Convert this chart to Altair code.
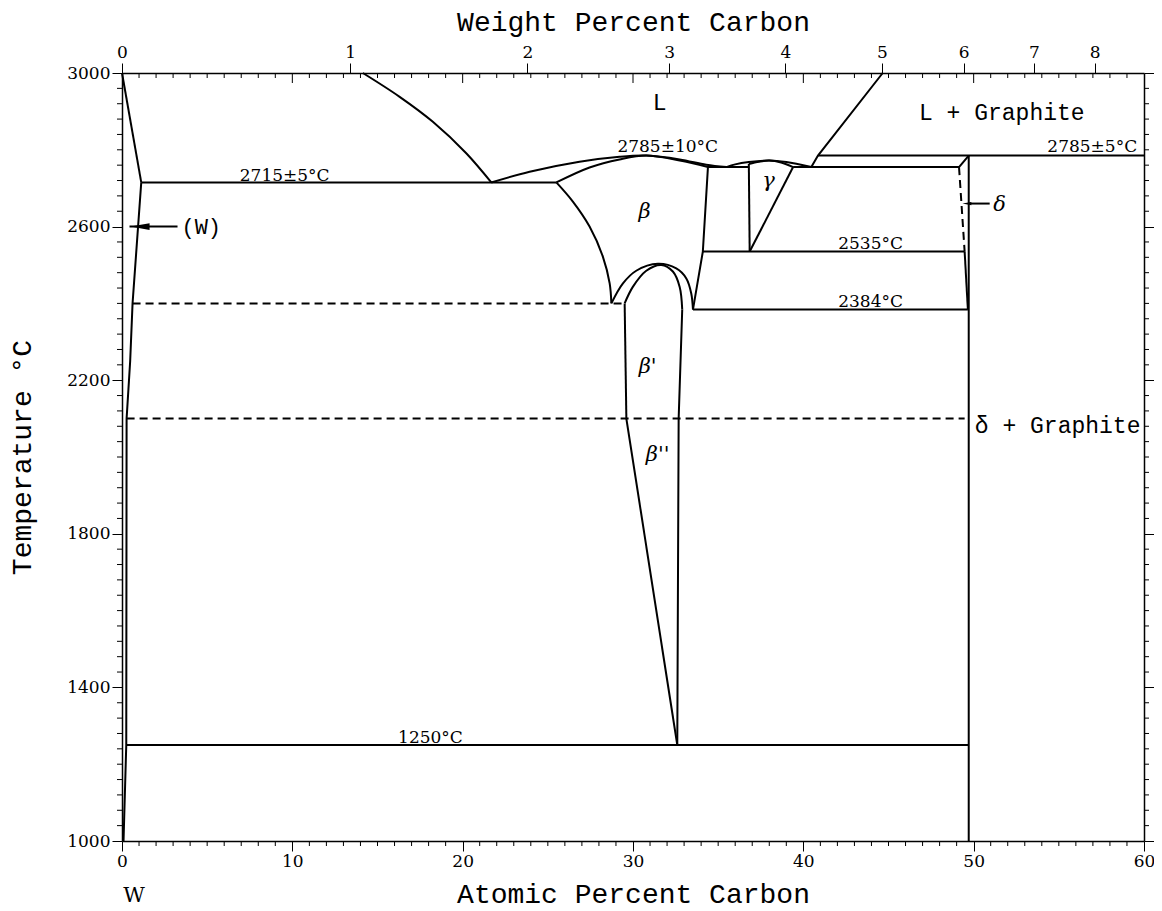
import altair as alt
import pandas as pd

W, H = 1022, 768
X_DOM = [0, 60]
Y_DOM = [1000, 3000]

# ---- phase boundaries: (atomic % C, temperature °C) ----
# straight segments
w_solidus = [(0, 3000), (1.13, 2715)]
w_solvus = [(1.13, 2715), (0.62, 2400), (0.48, 2250), (0.27, 2100), (0.25, 1250), (0.09, 1000)]
iso_2715 = [(1.13, 2715), (25.5, 2715)]
beta_right = [(34.4, 2755), (34.1, 2535), (33.52, 2384)]
beta1_left = [(29.51, 2400), (29.61, 2100)]
beta2_left = [(29.61, 2100), (32.6, 1250)]
beta1_right = [(32.89, 2384), (32.68, 2100), (32.6, 1250)]
iso_1250 = [(0.25, 1250), (49.7, 1250)]
iso_2384 = [(33.52, 2384), (49.66, 2384)]
iso_2535 = [(34.1, 2535), (49.47, 2535)]
iso_2755_a = [(34.4, 2755), (36.8, 2755)]
iso_2755_b = [(39.4, 2755), (49.14, 2755)]
gamma_left = [(36.8, 2763), (36.85, 2535)]
gamma_right = [(39.4, 2755), (36.85, 2535)]
liq_graphite = [(40.47, 2755), (40.86, 2785), (44.66, 3000)]
iso_2785 = [(40.86, 2785), (60, 2785)]
wc_corner = [(49.14, 2755), (49.71, 2785)]
wc_line = [(49.71, 2785), (49.71, 1000)]
delta_low = [(49.47, 2535), (49.66, 2384)]
arrow_w = [(0.44, 2600), (3.26, 2600)]
arrow_d = [(49.75, 2660), (50.94, 2660)]

# curved boundaries
liq_w = [(14.14, 3000), (16.3, 2938), (18.25, 2873), (20.21, 2791), (21.68, 2715)]
liq_beta = [(21.68, 2715), (23.93, 2743), (26.86, 2769), (29.21, 2782), (30.78, 2785),
            (32.74, 2775), (34.3, 2761), (35.48, 2755)]
sol_beta = [(25.5, 2715), (27.45, 2754), (29.21, 2775), (30.78, 2785), (32.74, 2772), (34.4, 2755)]
beta_solvus = [(25.5, 2715), (26.47, 2665), (27.45, 2600), (28.23, 2522), (28.63, 2452), (28.73, 2400)]
dome_outer = [(28.73, 2400), (29.41, 2452), (30.19, 2485), (31.46, 2503), (32.54, 2491),
              (33.13, 2465), (33.42, 2426), (33.52, 2384)]
dome_inner = [(29.51, 2400), (29.99, 2443), (30.78, 2485), (31.66, 2500), (32.34, 2483),
              (32.74, 2443), (32.89, 2384)]
gamma_top = [(36.8, 2763), (37.4, 2769), (38.0, 2772), (38.7, 2767), (39.4, 2755)]
liq_gamma = [(35.48, 2755), (36.0, 2762), (36.8, 2768), (38.0, 2772), (39.0, 2768), (40.47, 2755)]

# dashed
dash_2400 = [(0.62, 2400), (29.51, 2400)]
dash_2100 = [(0.27, 2100), (49.47, 2100)]
dash_delta = [(49.14, 2755), (49.47, 2535)]

straight = [w_solidus, w_solvus, iso_2715, beta_right, beta1_left, beta2_left, beta1_right,
            iso_1250, iso_2384, iso_2535, iso_2755_a, iso_2755_b, gamma_left, gamma_right,
            liq_graphite, iso_2785, wc_corner, wc_line, delta_low, arrow_w, arrow_d]
curved = [liq_w, liq_beta, sol_beta, beta_solvus, dome_outer, dome_inner, gamma_top, liq_gamma]
dashed = [dash_2400, dash_2100, dash_delta]

# arrow heads
head_w = [(1.06, 2600)]
head_d = [(49.6, 2660)]

# labels
temp_labels = [("2715±5°C", 9.55, 2719), ("2785±10°C", 32.04, 2794), ("2535°C", 43.95, 2542),
               ("2384°C", 43.95, 2391), ("1250°C", 18.11, 1255)]
temp_label_right = [("2785±5°C", 59.6, 2794)]
mono_labels = [("L", 31.56, 2922), ("L + Graphite", 51.65, 2896), ("δ + Graphite", 54.93, 2081)]
w_label = [("(W)", 3.49, 2600)]
greek_labels = [("β", 30.68, 2638), ("γ", 37.96, 2719), ("β'", 30.86, 2234),
                ("β''", 31.45, 2005), ("δ", 51.52, 2656)]

# axes ticks
x_major = [0, 10, 20, 30, 40, 50, 60]
y_major = [1000, 1400, 1800, 2200, 2600, 3000]
wt_ticks = [0, 1, 2, 3, 4, 5, 6, 7, 8]
M_C, M_W = 12.011, 183.84

x_minor = [v for v in range(0, 61) if v % 10 != 0]
x_top_major = [10, 20, 30, 40, 50]
y_minor = [t for t in range(1000, 3001, 40) if (t - 1000) % 400 != 0]
wt_at = [100 * (w / M_C) / (w / M_C + (100 - w) / M_W) for w in wt_ticks]

xs = alt.Scale(domain=X_DOM, nice=False, zero=False)
ys = alt.Scale(domain=Y_DOM, nice=False, zero=False)

SERIF = "DejaVu Serif"
MONO = "Liberation Mono"


def seg_frame(segs):
    rows = []
    for k, s in enumerate(segs):
        for i, (x, y) in enumerate(s):
            rows.append({"seg": k, "i": i, "x": x, "y": y})
    return pd.DataFrame(rows)


def pts_frame(pts):
    return pd.DataFrame([{"x": x, "y": y} for x, y in pts])


def lab_frame(labs):
    return pd.DataFrame([{"t": t, "x": x, "y": y} for t, x, y in labs])


def enc_xy(ch, xaxis=None, yaxis=None):
    return ch.encode(
        x=alt.X("x:Q", scale=xs, axis=xaxis),
        y=alt.Y("y:Q", scale=ys, axis=yaxis),
    )


bottom_axis = alt.Axis(
    orient="bottom", values=x_major, format="d", tickSize=10, labelPadding=2, grid=False,
    labelFlush=False,
    title="Atomic Percent Carbon", titleFont=MONO, titleFontSize=28, titleFontWeight="normal",
    titleY=61, titleBaseline="alphabetic", labelFont=SERIF, labelFontSize=17,
)
left_axis = alt.Axis(
    orient="left", values=y_major, format="d", tickSize=10, labelPadding=2, grid=False,
    labelFlush=False,
    title="Temperature °C", titleFont=MONO, titleFontSize=28, titleFontWeight="normal",
    titleX=-100, titleY=384, titleBaseline="middle", labelFont=SERIF, labelFontSize=17,
)
top_axis = alt.Axis(
    orient="top", values=wt_at, tickSize=10, labelPadding=2, grid=False, labelFlush=False,
    labelExpr="'' + round(100*12.011*datum.value/(12.011*datum.value+183.84*(100-datum.value)))",
    title="Weight Percent Carbon", titleFont=MONO, titleFontSize=28, titleFontWeight="normal",
    titleY=-51, titleBaseline="middle", labelFont=SERIF, labelFontSize=17,
)
right_axis = alt.Axis(orient="right", values=y_major, tickSize=10, labels=False, grid=False, title=None)

lines_straight = enc_xy(
    alt.Chart(seg_frame(straight)).mark_line(color="black", strokeWidth=2, interpolate="linear"),
    bottom_axis, left_axis,
).encode(detail="seg:N", order="i:Q")

lines_curved = enc_xy(
    alt.Chart(seg_frame(curved)).mark_line(color="black", strokeWidth=2, interpolate="catmull-rom")
).encode(detail="seg:N", order="i:Q")

lines_dashed = enc_xy(
    alt.Chart(seg_frame(dashed)).mark_line(color="black", strokeWidth=2, strokeDash=[8, 5])
).encode(detail="seg:N", order="i:Q")

axis_layer2 = enc_xy(
    alt.Chart(pts_frame([(0, 1000)])).mark_point(opacity=0),
    top_axis, right_axis,
)

ARROW = "M -1 0 L 1 -0.35 L 1 0.35 Z"
heads_w = enc_xy(alt.Chart(pts_frame(head_w)).mark_point(shape=ARROW, filled=True, size=361,
                                                         color="black", opacity=1))
heads_d = enc_xy(alt.Chart(pts_frame(head_d)).mark_point(shape=ARROW, filled=True, size=81,
                                                         color="black", opacity=1))


def text_layer(labs, **kw):
    return enc_xy(alt.Chart(lab_frame(labs)).mark_text(color="black", **kw)).encode(text="t:N")


t_temp = text_layer(temp_labels, font=SERIF, fontSize=17, align="center", baseline="alphabetic")
t_temp_r = text_layer(temp_label_right, font=SERIF, fontSize=17, align="right", baseline="alphabetic")
t_mono = text_layer(mono_labels, font=MONO, fontSize=23, align="center", baseline="middle")
t_w = text_layer(w_label, font=MONO, fontSize=22, align="left", baseline="middle")
t_greek = text_layer(greek_labels, font=SERIF, fontSize=21, fontStyle="italic",
                     align="center", baseline="middle")

# minor ticks
df_xminor = pd.DataFrame({"x": x_minor})
df_xtop_major = pd.DataFrame({"x": x_top_major})
df_yminor = pd.DataFrame({"y": y_minor})

tick_bottom = alt.Chart(df_xminor).mark_rule(color="black", strokeWidth=1).encode(
    x=alt.X("x:Q", scale=xs, axis=None), y=alt.value(H), y2=alt.value(H + 5))
tick_top = alt.Chart(df_xminor).mark_rule(color="black", strokeWidth=1).encode(
    x=alt.X("x:Q", scale=xs, axis=None), y=alt.value(0), y2=alt.value(5))
tick_top_major = alt.Chart(df_xtop_major).mark_rule(color="black", strokeWidth=1).encode(
    x=alt.X("x:Q", scale=xs, axis=None), y=alt.value(0), y2=alt.value(10))
tick_left = alt.Chart(df_yminor).mark_rule(color="black", strokeWidth=1).encode(
    y=alt.Y("y:Q", scale=ys, axis=None), x=alt.value(0), x2=alt.value(-5))
tick_right = alt.Chart(df_yminor).mark_rule(color="black", strokeWidth=1).encode(
    y=alt.Y("y:Q", scale=ys, axis=None), x=alt.value(W), x2=alt.value(W + 5))

# "W" end-member label below the axis
w_end = alt.Chart(pd.DataFrame({"t": ["W"]})).mark_text(
    font=SERIF, fontSize=21, align="center", baseline="alphabetic", color="black"
).encode(text="t:N", x=alt.value(12), y=alt.value(829))

chart = alt.layer(
    lines_straight, axis_layer2, lines_curved, lines_dashed, heads_w, heads_d,
    t_temp, t_temp_r, t_mono, t_w, t_greek,
    tick_bottom, tick_top, tick_top_major, tick_left, tick_right, w_end,
).resolve_axis(
    x="independent", y="independent"
).properties(
    width=W, height=H,
    autosize=alt.AutoSizeParams(type="none"),
    padding={"left": 114, "top": 65, "right": 10, "bottom": 68},
    background="white",
).configure_view(
    strokeWidth=0
).configure_axis(
    domainColor="black", tickColor="black", labelColor="black", titleColor="black",
    domainWidth=1.5, tickWidth=1,
)

chart.save("out.html", embed_options={"renderer": "svg", "actions": False})
